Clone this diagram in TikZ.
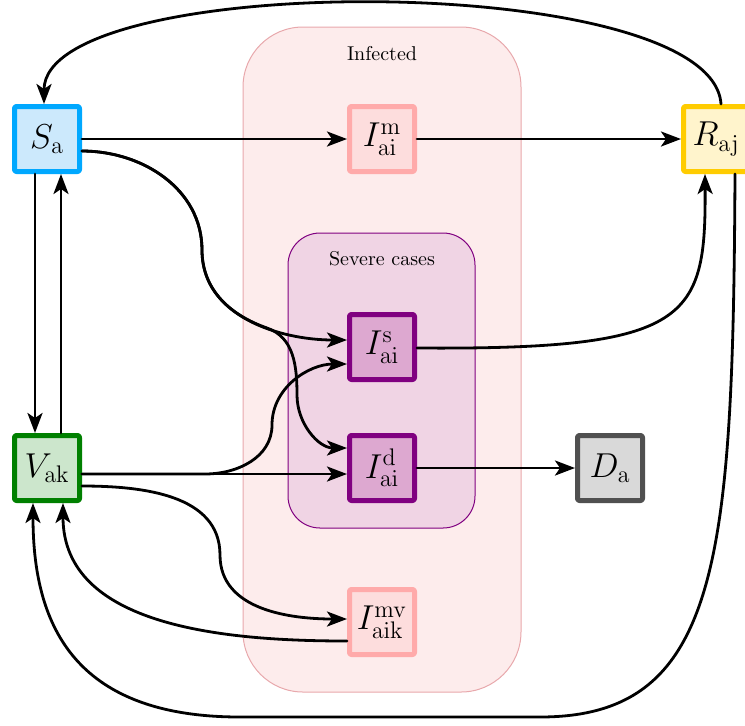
\documentclass[tikz,border=0pt]{standalone}
\usetikzlibrary{arrows.meta,calc}
\definecolor{sline}{RGB}{0,168,255}
\definecolor{sfill}{RGB}{204,233,252}
\definecolor{iline}{RGB}{255,170,170}
\definecolor{ifill}{RGB}{253,221,221}
\definecolor{rline}{RGB}{255,204,0}
\definecolor{rfill}{RGB}{255,244,204}
\definecolor{vline}{RGB}{0,128,0}
\definecolor{vfill}{RGB}{204,230,204}
\definecolor{sevline}{RGB}{128,0,128}
\definecolor{sevfill}{RGB}{221,168,208}
\definecolor{dline}{RGB}{80,80,80}
\definecolor{dfill}{RGB}{217,217,217}
\definecolor{infback}{RGB}{253,236,236}
\definecolor{infline}{RGB}{232,168,172}
\definecolor{sevback}{RGB}{240,212,228}
\begin{document}
\begin{tikzpicture}[x=0.5pt,y=-0.5pt,line join=round,line cap=round,>={Stealth[length=10pt,width=7.5pt,inset=2.5pt]},
	comp/.style={draw,line width=2.5pt,rounded corners=1pt,minimum size=32.5pt,inner sep=0pt,font=\LARGE},
	flow/.style={->,line width=1.4pt},
	group/.style={line width=0.5pt,rounded corners=#1},
	title/.style={font=\normalsize}]
	\useasboundingbox (0,0) rectangle (745,725);
	\draw[group=30pt,draw=infline,fill=infback] (243,27) rectangle (521,692);
	\draw[group=16pt,draw=sevline,fill=sevback] (288,233) rectangle (475,528);
	\node[title] (inf) at (382,54) {Infected};
	\node[title] (sev) at (382,259) {Severe cases};
	\node[comp,draw=sline,fill=sfill] (Sa) at (47,139) {$S_{\mathrm{a}}$};
	\node[comp,draw=iline,fill=ifill] (Imai) at (382,139) {$I^{\mathrm{m}}_{\mathrm{ai}}$};
	\node[comp,draw=rline,fill=rfill] (Raj) at (716,139) {$R_{\mathrm{aj}}$};
	\node[comp,draw=sevline,fill=sevfill] (Isai) at (382,347) {$I^{\mathrm{s}}_{\mathrm{ai}}$};
	\node[comp,draw=vline,fill=vfill] (Vak) at (47,468) {$V_{\mathrm{ak}}$};
	\node[comp,draw=sevline,fill=sevfill] (Idai) at (382,468) {$I^{\mathrm{d}}_{\mathrm{ai}}$};
	\node[comp,draw=dline,fill=dfill] (Da) at (610,468) {$D_{\mathrm{a}}$};
	\node[comp,draw=iline,fill=ifill] (Imvaik) at (382,622) {$I^{\mathrm{mv}}_{\mathrm{aik}}$};
	\coordinate (sTurn) at (202,250);
	\coordinate (dSplit) at (267,328);
	\coordinate (dTurn) at (297,395);
	\coordinate (vBend) at (205,474);
	\coordinate (vTurn) at (272,425);
	\coordinate (mvTurn) at (220,555);
	\coordinate (bRight) at (540,717);
	\coordinate (bLeft) at (240,717);
	\draw[flow] ([xshift=-6pt]Sa.south) -- ([xshift=-6pt]Vak.north);
	\draw[flow] ([xshift=7pt]Vak.north) -- ([xshift=7pt]Sa.south);
	\draw[flow] (Sa.east) -- (Imai.west);
	\draw[flow] (Imai.east) -- (Raj.west);
	\draw[flow] ($(Sa.east)+(0,12)$) to[out=0,in=90] (sTurn) to[out=-90,in=180] ($(Isai.west)+(0,-7)$);
	\draw[flow] ($(Sa.east)+(0,12)$) to[out=0,in=90] (sTurn) .. controls (202,290) and (230,315) .. (dSplit) to[out=-19,in=90] (dTurn) to[out=-90,in=180] ($(Idai.west)+(0,-20)$);
	\draw[flow] ($(Vak.east)+(0,6)$) -- ($(Idai.west)+(0,6)$);
	\draw[flow] ($(Vak.east)+(0,6)$) -- (vBend) to[out=0,in=-90] (vTurn) to[out=90,in=180] ($(Isai.west)+(0,17)$);
	\draw[flow] ($(Vak.east)+(0,18)$) to[out=0,in=90] (mvTurn) to[out=-90,in=180] ($(Imvaik.west)+(0,-3)$);
	\draw[flow] ($(Imvaik.west)+(0,19)$) to[out=180,in=-90] ([xshift=8pt]Vak.south);
	\draw[flow] (Idai.east) -- (Da.west);
	\draw[flow] ($(Isai.east)+(0,1)$) .. controls (690,350) and (706,320) .. ([xshift=-5.5pt]Raj.south);
	\draw[flow] ([xshift=9.5pt]Raj.south) .. controls (733,560) and (720,717) .. (bRight) -- (bLeft) .. controls (70,717) and (33,620) .. ([xshift=-7pt]Vak.south);
	\draw[flow] ([xshift=2.5pt]Raj.north) .. controls (712,-30) and (44,-30) .. ([xshift=-1.5pt]Sa.north);
\end{tikzpicture}
\end{document}
